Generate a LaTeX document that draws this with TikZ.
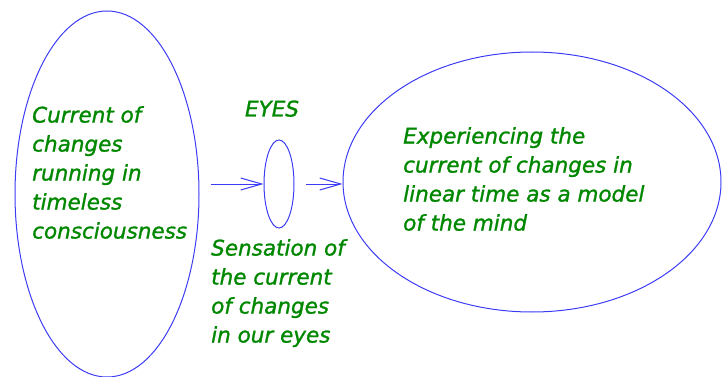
\documentclass[tikz,border=0pt]{standalone}
\usepackage{fontspec}
\setmainfont{DejaVu Sans}
\newfontfamily\greenfont{DejaVu Sans}[FakeBold=1.2]
\usepackage{xcolor}
\usetikzlibrary{positioning, shapes.geometric, arrows.meta}

\definecolor{lineblue}{RGB}{60,60,245}
\definecolor{textgreen}{RGB}{0,135,0}

\begin{document}
\begin{tikzpicture}[
    x=1pt, y=-1pt,
    oval/.style={ellipse, draw=lineblue, line width=1pt, inner sep=0pt},
    txt/.style={align=left, inner sep=0pt, text=textgreen, font=\greenfont\fontsize{21.5}{29}\selectfont\itshape},
    arrow/.style={-{Straight Barb[length=21pt, width=12pt]}, draw=lineblue, line width=1pt, shorten <=11pt}
]
\useasboundingbox (0,0) rectangle (723,377);

% Ellipses
\node[oval, minimum width=184pt, minimum height=366pt] (timeless) at (107,194) {};
\node[oval, minimum width=30pt, minimum height=88pt] (eye) at (279,184) {};
\node[oval, minimum width=378pt, minimum height=260pt] (model) at (532,182) {};

% Texts
\node[txt, anchor=north west] (current) at (32,106) {Current of\\changes\\running in\\timeless\\consciousness};
\node[txt, anchor=base] (eyes) at ([shift={(-7,-23)}]eye.north) {EYES};
\node[txt, anchor=north west] (sensation) at (211,239) {Sensation of\\the current\\of changes\\in our eyes};
\node[txt, anchor=north west] (experience) at (403,127) {Experiencing the\\current of changes in\\linear time as a model\\of the mind};

% Arrows
\draw[arrow] (timeless.east |- eye.west) -- (eye.west);
\draw[arrow] (eye.east) -- (eye.east -| model.west);

\end{tikzpicture}
\end{document}
